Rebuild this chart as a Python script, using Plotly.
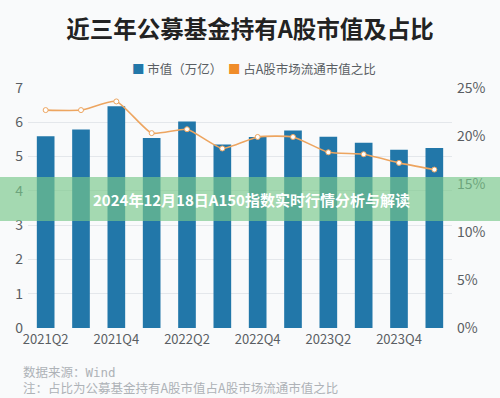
import plotly.graph_objects as go

categories = ["2021Q2", "2021Q3", "2021Q4", "2022Q1", "2022Q2", "2022Q3",
              "2022Q4", "2023Q1", "2023Q2", "2023Q3", "2023Q4", "2024Q1"]
market_value = [5.59, 5.79, 6.47, 5.54, 6.02, 5.35, 5.57, 5.76, 5.58, 5.40, 5.20, 5.25]
share_pct = [22.7, 22.7, 23.6, 20.3, 20.7, 18.7, 19.9, 19.9, 18.3, 18.1, 17.2, 16.5]
x_tick_labels = ["2021Q2", "2021Q4", "2022Q2", "2022Q4", "2023Q2", "2023Q4"]
left_ticks = [0, 1, 2, 3, 4, 5, 6, 7]
right_ticks = [0, 5, 10, 15, 20, 25]
right_tick_labels = ["0%", "5%", "10%", "15%", "20%", "25%"]

title_text = "近三年公募基金持有A股市值及占比"
legend_names = ["市值（万亿）", "占A股市场流通市值之比"]
banner_text = "2024年12月18日A150指数实时行情分析与解读"
source_text = "数据来源：Wind"
note_text = "注：占比为公募基金持有A股市值占A股市场流通市值之比"

BLUE = "#2277a9"
ORANGE = "#f08c2a"
LINE_ORANGE = "#eda560"
FONT = "Noto Sans CJK SC"
BG = "#f9fafb"

L, R, T, B = 28, 48, 88, 70
W = 500 - L - R
H = 398 - T - B


def px(x):
    return (x - L) / W


def py(y):
    return (398 - B - y) / H


fig = go.Figure()
fig.add_trace(go.Bar(x=categories, y=market_value, marker=dict(color=BLUE, line=dict(width=0)),
                     name=legend_names[0], showlegend=False, yaxis="y"))
fig.add_trace(go.Scatter(x=categories, y=share_pct, mode="lines+markers", yaxis="y2",
                         name=legend_names[1], showlegend=False,
                         line=dict(color=LINE_ORANGE, width=1.6, shape="spline", smoothing=0.5),
                         marker=dict(size=5, color="white", line=dict(color=LINE_ORANGE, width=1))))

tick_font = dict(family=FONT, size=14, color="#5a5e63")

fig.update_layout(
    width=500, height=398,
    margin=dict(l=L, r=R, t=T, b=B, autoexpand=False),
    paper_bgcolor=BG, plot_bgcolor=BG,
    barmode="overlay", bargap=0.5,
    font=dict(family=FONT),
    title=dict(text="<b>" + title_text + "</b>", x=0.5, xanchor="center",
               y=1 - 30 / 398, yanchor="middle",
               font=dict(family=FONT, size=23.5, color="#222222")),
    xaxis=dict(type="category", range=[-0.5, len(categories) - 0.5],
               tickmode="array", tickvals=x_tick_labels, ticktext=x_tick_labels,
               showgrid=False, showline=False, zeroline=False, ticks="", automargin=False,
               tickfont=dict(family=FONT, size=13, color="#5a5e63"), ticklabelstandoff=2),
    yaxis=dict(range=[0, 7], tickvals=left_ticks, showgrid=True, gridcolor="#e4e7eb",
               gridwidth=1, zeroline=False, showline=False, ticks="", automargin=False,
               tickfont=tick_font, ticklabelstandoff=4),
    yaxis2=dict(range=[0, 25], tickvals=right_ticks, ticktext=right_tick_labels, overlaying="y",
                side="right", showgrid=False, zeroline=False, showline=False, ticks="",
                automargin=False, tickfont=tick_font, ticklabelstandoff=4),
    showlegend=False,
)

# legend drawn as annotations
fig.add_annotation(xref="paper", yref="paper", x=px(130), y=py(68.5),
                   xanchor="left", yanchor="middle", showarrow=False,
                   text="<span style='color:%s'>■</span> %s  <span style='color:%s'>■</span> %s"
                        % (BLUE, legend_names[0], ORANGE, legend_names[1]),
                   font=dict(family=FONT, size=12.5, color="#5a5e63"))

# green banner overlay
fig.add_shape(type="rect", xref="paper", yref="paper", x0=-0.2, x1=1.3,
              y0=py(221), y1=py(177),
              fillcolor="rgba(120,200,138,0.66)", line=dict(width=0), layer="above")
fig.add_annotation(xref="paper", yref="paper", x=px(251), y=py(199),
                   xanchor="center", yanchor="middle", showarrow=False,
                   text="<b>" + banner_text + "</b>",
                   font=dict(family=FONT, size=15, color="white"))

# footer (two lines in one text block)
footer = (source_text.replace("Wind", "<span style='font-family:DejaVu Sans Mono'>Wind</span>")
          + "<br>" + note_text)
fig.add_annotation(xref="paper", yref="paper", x=px(21), y=py(379.5),
                   xanchor="left", yanchor="middle", align="left", showarrow=False,
                   text=footer, font=dict(family=FONT, size=12.5, color="#aeb2b7"))

fig.write_html("out.html", config={"displayModeBar": False},
               post_script="document.body.style.margin='0';document.body.style.background='%s';" % BG)
